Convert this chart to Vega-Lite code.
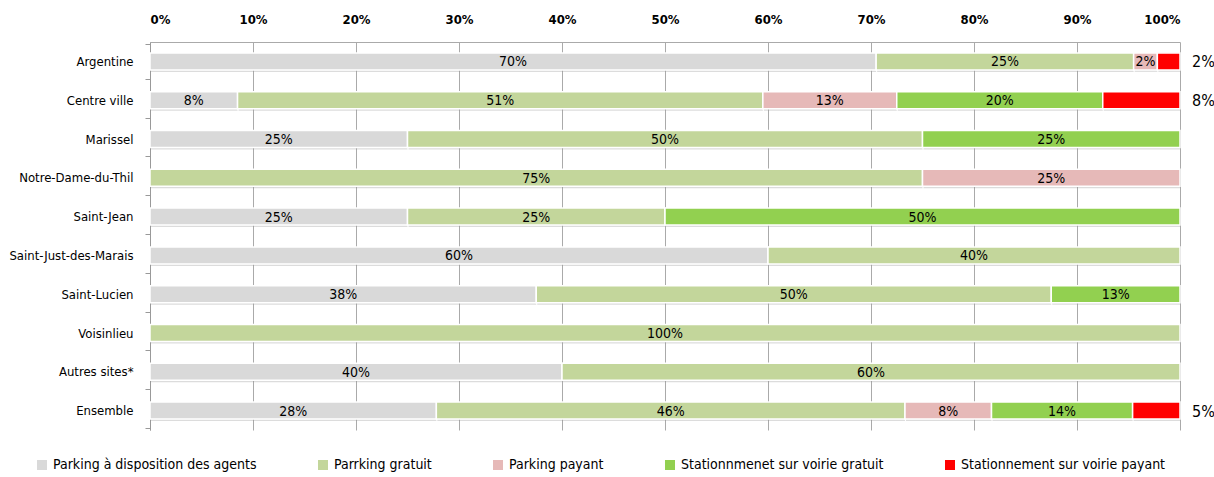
{
  "$schema": "https://vega.github.io/schema/vega-lite/v6.json",
  "width": 1030,
  "height": 388,
  "autosize": {"type": "none"},
  "padding": {"left": 150, "top": 42, "right": 34, "bottom": 47},
  "background": "white",
  "config": {
    "font": "DejaVu Sans Condensed, Liberation Sans, sans-serif",
    "view": {"stroke": null}
  },
  "data": {
    "values": [
      {"site": "Argentine", "cat": "Parking à disposition des agents", "o": 1, "value": 70.5, "label": "70%"},
      {"site": "Argentine", "cat": "Parrking gratuit", "o": 2, "value": 25, "label": "25%"},
      {"site": "Argentine", "cat": "Parking payant", "o": 3, "value": 2.3, "label": "2%"},
      {"site": "Argentine", "cat": "Stationnement sur voirie payant", "o": 5, "value": 2.2, "label": "2%"},
      {"site": "Centre ville", "cat": "Parking à disposition des agents", "o": 1, "value": 8.5, "label": "8%"},
      {"site": "Centre ville", "cat": "Parrking gratuit", "o": 2, "value": 51, "label": "51%"},
      {"site": "Centre ville", "cat": "Parking payant", "o": 3, "value": 13, "label": "13%"},
      {"site": "Centre ville", "cat": "Stationnmenet sur voirie gratuit", "o": 4, "value": 20, "label": "20%"},
      {"site": "Centre ville", "cat": "Stationnement sur voirie payant", "o": 5, "value": 7.5, "label": "8%"},
      {"site": "Marissel", "cat": "Parking à disposition des agents", "o": 1, "value": 25, "label": "25%"},
      {"site": "Marissel", "cat": "Parrking gratuit", "o": 2, "value": 50, "label": "50%"},
      {"site": "Marissel", "cat": "Stationnmenet sur voirie gratuit", "o": 4, "value": 25, "label": "25%"},
      {"site": "Notre-Dame-du-Thil", "cat": "Parrking gratuit", "o": 2, "value": 75, "label": "75%"},
      {"site": "Notre-Dame-du-Thil", "cat": "Parking payant", "o": 3, "value": 25, "label": "25%"},
      {"site": "Saint-Jean", "cat": "Parking à disposition des agents", "o": 1, "value": 25, "label": "25%"},
      {"site": "Saint-Jean", "cat": "Parrking gratuit", "o": 2, "value": 25, "label": "25%"},
      {"site": "Saint-Jean", "cat": "Stationnmenet sur voirie gratuit", "o": 4, "value": 50, "label": "50%"},
      {"site": "Saint-Just-des-Marais", "cat": "Parking à disposition des agents", "o": 1, "value": 60, "label": "60%"},
      {"site": "Saint-Just-des-Marais", "cat": "Parrking gratuit", "o": 2, "value": 40, "label": "40%"},
      {"site": "Saint-Lucien", "cat": "Parking à disposition des agents", "o": 1, "value": 37.5, "label": "38%"},
      {"site": "Saint-Lucien", "cat": "Parrking gratuit", "o": 2, "value": 50, "label": "50%"},
      {"site": "Saint-Lucien", "cat": "Stationnmenet sur voirie gratuit", "o": 4, "value": 12.5, "label": "13%"},
      {"site": "Voisinlieu", "cat": "Parrking gratuit", "o": 2, "value": 100, "label": "100%"},
      {"site": "Autres sites*", "cat": "Parking à disposition des agents", "o": 1, "value": 40, "label": "40%"},
      {"site": "Autres sites*", "cat": "Parrking gratuit", "o": 2, "value": 60, "label": "60%"},
      {"site": "Ensemble", "cat": "Parking à disposition des agents", "o": 1, "value": 27.8, "label": "28%"},
      {"site": "Ensemble", "cat": "Parrking gratuit", "o": 2, "value": 45.5, "label": "46%"},
      {"site": "Ensemble", "cat": "Parking payant", "o": 3, "value": 8.4, "label": "8%"},
      {"site": "Ensemble", "cat": "Stationnmenet sur voirie gratuit", "o": 4, "value": 13.7, "label": "14%"},
      {"site": "Ensemble", "cat": "Stationnement sur voirie payant", "o": 5, "value": 4.6, "label": "5%"}
    ]
  },
  "transform": [
    {"stack": "value", "groupby": ["site"], "sort": [{"field": "o"}], "as": ["x0", "x1"]},
    {"calculate": "(datum.x0 + datum.x1) / 2", "as": "mid"}
  ],
  "encoding": {
    "y": {
      "field": "site",
      "type": "nominal",
      "sort": ["Argentine", "Centre ville", "Marissel", "Notre-Dame-du-Thil", "Saint-Jean", "Saint-Just-des-Marais", "Saint-Lucien", "Voisinlieu", "Autres sites*", "Ensemble"],
      "title": null,
      "axis": {
        "tickBand": "extent",
        "tickSize": 5,
        "tickColor": "#999",
        "domainColor": "#999",
        "labelFontSize": 13,
        "labelColor": "#000",
        "labelPadding": 12,
        "grid": false
      }
    }
  },
  "layer": [
    {
      "mark": {"type": "bar", "size": 17, "color": "#9a9a9a", "opacity": 0.35, "yOffset": 2, "xOffset": 1},
      "encoding": {
        "x": {"field": "x0", "type": "quantitative", "scale": {"domain": [0, 100], "nice": false}},
        "x2": {"field": "x1"}
      }
    },
    {
      "mark": {"type": "bar", "size": 17, "stroke": "white", "strokeWidth": 1.5},
      "encoding": {
        "x": {
          "field": "x0",
          "type": "quantitative",
          "scale": {"domain": [0, 100], "nice": false},
          "title": null,
          "axis": {
            "orient": "top",
            "values": [0, 10, 20, 30, 40, 50, 60, 70, 80, 90, 100],
            "labelExpr": "datum.value + '%'",
            "labelFontSize": 13,
            "labelColor": "#000",
            "labelFontWeight": "bold",
            "ticks": false,
            "labelPadding": 16,
            "domainColor": "#aaa",
            "grid": true,
            "gridColor": "#aaa",
            "gridWidth": 1
          }
        },
        "x2": {"field": "x1"},
        "color": {
          "field": "cat",
          "type": "nominal",
          "scale": {
            "domain": ["Parking à disposition des agents", "Parrking gratuit", "Parking payant", "Stationnmenet sur voirie gratuit", "Stationnement sur voirie payant"],
            "range": ["#D9D9D9", "#C3D69B", "#E6B9B8", "#92D050", "#FF0000"]
          },
          "legend": {
            "title": null,
            "orient": "none",
            "legendX": -115,
            "legendY": 416,
            "direction": "horizontal",
            "symbolType": "square",
            "symbolSize": 100,
            "symbolStrokeWidth": 0,
            "labelFontSize": 14,
            "labelColor": "#000",
            "columnPadding": 59,
            "labelLimit": 300
          }
        }
      }
    },
    {
      "transform": [{"filter": "datum.o != 5"}],
      "mark": {"type": "text", "fontSize": 14, "color": "#000", "baseline": "middle", "dy": 1},
      "encoding": {
        "x": {"field": "mid", "type": "quantitative"},
        "text": {"field": "label"}
      }
    },
    {
      "transform": [{"filter": "datum.o == 5"}],
      "mark": {"type": "text", "fontSize": 16, "color": "#000", "baseline": "middle", "align": "left", "dx": 12, "dy": 1},
      "encoding": {
        "x": {"field": "x1", "type": "quantitative"},
        "text": {"field": "label"}
      }
    }
  ]
}
